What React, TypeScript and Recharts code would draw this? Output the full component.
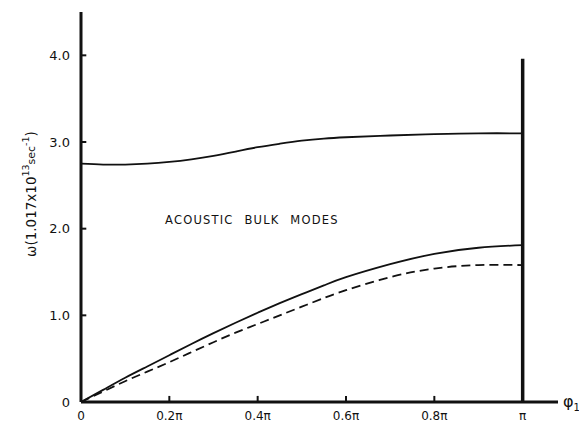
import React from "react";
import {
  LineChart,
  Line,
  XAxis,
  YAxis,
  ReferenceLine,
  ReferenceDot,
} from "recharts";

// phase angle phi_1, in units of pi
const phi = [
  0, 0.05, 0.1, 0.15, 0.2, 0.25, 0.3, 0.35, 0.4, 0.45, 0.5, 0.55, 0.6, 0.7,
  0.8, 0.9, 1.0,
];
// upper acoustic bulk band
const upperBand = [
  2.75, 2.74, 2.74, 2.75, 2.77, 2.8, 2.84, 2.89, 2.94, 2.98, 3.015, 3.04,
  3.055, 3.075, 3.09, 3.1, 3.1,
];
// lower band, solid edge
const lowerSolid = [
  0, 0.14, 0.28, 0.41, 0.54, 0.67, 0.795, 0.915, 1.03, 1.14, 1.245, 1.345,
  1.44, 1.59, 1.71, 1.78, 1.81,
];
// lower band, dashed edge
const lowerDashed = [
  0, 0.12, 0.24, 0.35, 0.46, 0.575, 0.69, 0.8, 0.9, 1.0, 1.1, 1.2, 1.29, 1.44,
  1.54, 1.58, 1.58,
];

const xTicks = [0, 0.2, 0.4, 0.6, 0.8, 1];
const xTickLabels = ["0", "0.2π", "0.4π", "0.6π", "0.8π", "π"];
const yTicks = [0, 1, 2, 3, 4];
const X_MAX = 1.08;
const Y_MAX = 4.5;
const zoneEdgeTop = 3.96;
// inward tick lengths, in data units
const X_TICK_LEN = 0.07;
const Y_TICK_LEN = 0.012;

const data = phi.map((p, i) => ({
  phi: p,
  upper: upperBand[i],
  solid: lowerSolid[i],
  dashed: lowerDashed[i],
}));

const FONT = "'DejaVu Sans', sans-serif";
const INK = "#111";

const YLabel = () => (
  <text
    x={31}
    y={194}
    transform="rotate(-90 31 194)"
    textAnchor="middle"
    dominantBaseline="central"
    fontFamily={FONT}
    fontSize={13.5}
    fill={INK}
  >
    ω(1.017x10
    <tspan fontSize={9.5} dy={-6}>
      13
    </tspan>
    <tspan fontSize={11} dy={6}>
      sec
    </tspan>
    <tspan fontSize={9.5} dy={-6}>
      -1
    </tspan>
    <tspan dy={6}>)</tspan>
  </text>
);

const XLabel = () => (
  <text x={563} y={407} fontFamily={FONT} fontSize={16} fill={INK}>
    φ
    <tspan fontSize={10} dy={4}>
      1
    </tspan>
  </text>
);

const BulkLabel = (props: any) => {
  const vb = props.viewBox || {};
  return (
    <text
      x={vb.x}
      y={vb.y}
      textAnchor="middle"
      dominantBaseline="central"
      fontFamily={FONT}
      fontSize={11.5}
      fill={INK}
      style={{ letterSpacing: "1.2px", wordSpacing: "6px" }}
    >
      ACOUSTIC BULK MODES
    </text>
  );
};

export default function App() {
  return (
    <div
      style={{
        position: "absolute",
        left: 0,
        top: 0,
        width: 579,
        height: 422,
        background: "#fff",
      }}
    >
      <LineChart
        width={579}
        height={422}
        data={data}
        margin={{ top: 12, right: 21, bottom: 0, left: 21 }}
      >
        <XAxis
          type="number"
          dataKey="phi"
          domain={[0, X_MAX]}
          ticks={xTicks}
          allowDataOverflow
          height={20}
          tickSize={0}
          tickMargin={9}
          tickLine={false}
          tickFormatter={(v: number) => xTickLabels[xTicks.indexOf(v)] ?? ""}
          tick={{ fontFamily: FONT, fontSize: 12, fill: INK }}
          axisLine={false}
          label={<XLabel />}
        />
        <YAxis
          type="number"
          domain={[0, Y_MAX]}
          ticks={yTicks}
          allowDataOverflow
          width={60}
          tickSize={0}
          tickMargin={11}
          tickLine={false}
          tickFormatter={(v: number) => (v === 0 ? "0" : v.toFixed(1))}
          tick={{ fontFamily: FONT, fontSize: 13, fill: INK }}
          axisLine={false}
          label={<YLabel />}
        />
        {/* heavy axis strokes */}
        <ReferenceLine
          segment={[
            { x: 0, y: 0 },
            { x: X_MAX, y: 0 },
          ]}
          stroke={INK}
          strokeWidth={3}
          ifOverflow="visible"
        />
        <ReferenceLine
          segment={[
            { x: 0, y: 0 },
            { x: 0, y: Y_MAX },
          ]}
          stroke={INK}
          strokeWidth={3}
          ifOverflow="visible"
        />
        {/* short inward tick marks */}
        {xTicks
          .filter((t) => t > 0 && t < 1)
          .map((t) => (
            <ReferenceLine
              key={`xt-${t}`}
              segment={[
                { x: t, y: 0 },
                { x: t, y: X_TICK_LEN },
              ]}
              stroke={INK}
              strokeWidth={2}
              ifOverflow="visible"
            />
          ))}
        {yTicks
          .filter((t) => t > 0)
          .map((t) => (
            <ReferenceLine
              key={`yt-${t}`}
              segment={[
                { x: 0, y: t },
                { x: Y_TICK_LEN, y: t },
              ]}
              stroke={INK}
              strokeWidth={2}
              ifOverflow="visible"
            />
          ))}
        {/* zone boundary at phi = pi */}
        <ReferenceLine
          segment={[
            { x: 1, y: 0 },
            { x: 1, y: zoneEdgeTop },
          ]}
          stroke={INK}
          strokeWidth={3.5}
          ifOverflow="visible"
        />
        <ReferenceDot
          x={0.387}
          y={2.1}
          r={0}
          fill="none"
          stroke="none"
          label={<BulkLabel />}
        />
        <Line
          type="natural"
          dataKey="upper"
          stroke={INK}
          strokeWidth={1.8}
          dot={false}
          isAnimationActive={false}
        />
        <Line
          type="natural"
          dataKey="solid"
          stroke={INK}
          strokeWidth={1.8}
          dot={false}
          isAnimationActive={false}
        />
        <Line
          type="natural"
          dataKey="dashed"
          stroke={INK}
          strokeWidth={1.8}
          strokeDasharray="9 5"
          dot={false}
          isAnimationActive={false}
        />
      </LineChart>
    </div>
  );
}
